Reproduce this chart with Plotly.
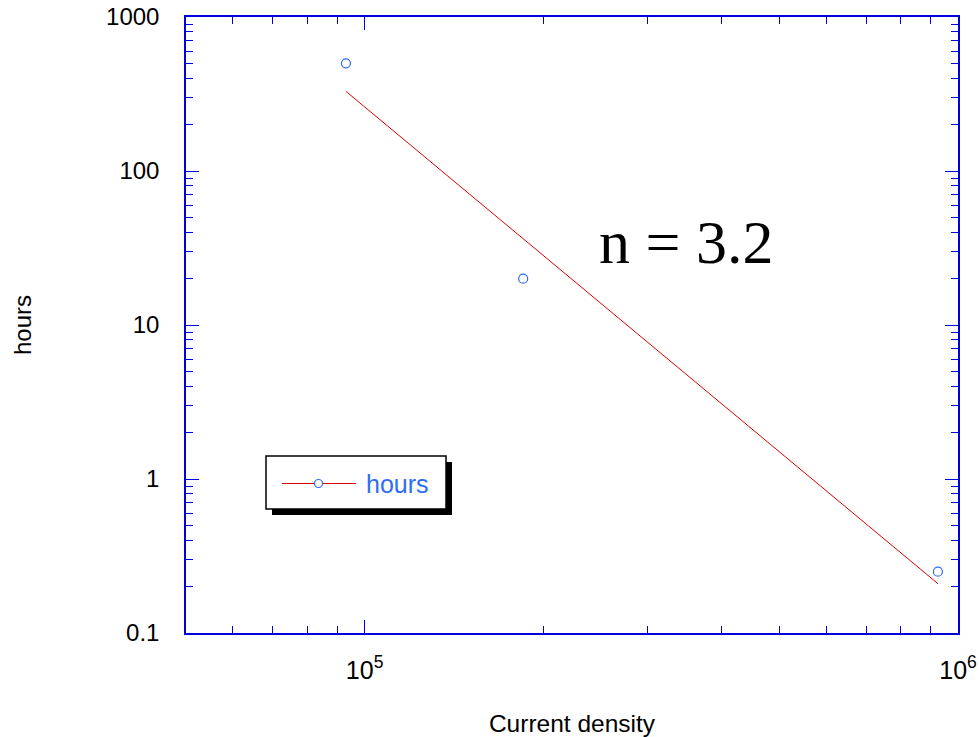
import numpy as np
import plotly.graph_objects as go

# ---- data ----
current_density = [9.3e4, 1.85e5, 9.25e5]
hours = [500, 20, 0.25]
x_tick_vals = [1e5, 1e6]
x_tick_text = ["10<sup>5</sup>", "10<sup>6</sup>"]
y_tick_vals = [0.1, 1, 10, 100, 1000]
y_tick_text = ["0.1", "1", "10", "100", "1000"]
annotation_text = "n = 3.2"
legend_label = "hours"

# power-law fit in log-log space
lx = np.log10(current_density)
ly = np.log10(hours)
slope, intercept = np.polyfit(lx, ly, 1)
fit_x = [min(current_density), max(current_density)]
fit_y = [10 ** (intercept + slope * np.log10(v)) for v in fit_x]

W, H = 979, 737
L, R, T, B = 186, 21, 17, 104
PW, PH = W - L - R, H - T - B

def px(x):
    return (x - L) / PW

def py(y):
    return (H - B - y) / PH

AXIS_COLOR = "#0000dd"
BLUE = "#2f6cf5"
RED = "#dd0000"

fig = go.Figure()
fig.add_trace(go.Scatter(x=fit_x, y=fit_y, mode="lines",
                         line=dict(color=RED, width=1), showlegend=False,
                         hoverinfo="skip"))
fig.add_trace(go.Scatter(x=current_density, y=hours, mode="markers",
                         marker=dict(symbol="circle-open", size=9,
                                     color=BLUE, line=dict(width=1.2)),
                         name=legend_label, showlegend=False))

minor_x = [v * 10 ** e for e in (4, 5) for v in range(2, 10)]
minor_y = [v * 10 ** e for e in (-1, 0, 1, 2) for v in range(2, 10)]

font_sans = "Liberation Sans, Arial, sans-serif"

fig.update_xaxes(type="log", range=[np.log10(5e4), 6],
                 tickvals=x_tick_vals, ticktext=x_tick_text,
                 ticks="inside", ticklen=13, tickwidth=1.2, tickcolor=AXIS_COLOR,
                 showline=True, linecolor=AXIS_COLOR, linewidth=1.5,
                 mirror="allticks", showgrid=False, zeroline=False,
                 ticklabelstandoff=14,
                 tickfont=dict(family=font_sans, size=25, color="black"),
                 minor=dict(tickvals=minor_x, ticks="inside", ticklen=7,
                            tickwidth=1.2, tickcolor=AXIS_COLOR, showgrid=False),
                 title=dict(text="Current density", standoff=32,
                            font=dict(family=font_sans, size=24.5, color="black")))
fig.update_yaxes(type="log", range=[-1, 3],
                 tickvals=y_tick_vals, ticktext=y_tick_text,
                 ticks="inside", ticklen=13, tickwidth=1.2, tickcolor=AXIS_COLOR,
                 showline=True, linecolor=AXIS_COLOR, linewidth=1.5,
                 mirror="allticks", showgrid=False, zeroline=False,
                 ticklabelstandoff=20,
                 tickfont=dict(family=font_sans, size=24, color="black"),
                 minor=dict(tickvals=minor_y, ticks="inside", ticklen=7,
                            tickwidth=1.2, tickcolor=AXIS_COLOR, showgrid=False),
                 title=dict(text="hours", standoff=68,
                            font=dict(family=font_sans, size=24, color="black")))

shapes = [
    # legend shadow
    dict(type="rect", xref="paper", yref="paper",
         x0=px(272), x1=px(452), y0=py(462), y1=py(515),
         fillcolor="black", line=dict(width=0), layer="above"),
    # legend box
    dict(type="rect", xref="paper", yref="paper",
         x0=px(266), x1=px(446), y0=py(456), y1=py(509),
         fillcolor="white", line=dict(color="black", width=1.5), layer="above"),
    # legend line
    dict(type="line", xref="paper", yref="paper",
         x0=px(282), x1=px(356), y0=py(483.5), y1=py(483.5),
         line=dict(color=RED, width=1), layer="above"),
    # legend marker
    dict(type="circle", xref="paper", yref="paper",
         xsizemode="pixel", ysizemode="pixel",
         xanchor=px(318.5), yanchor=py(483.5),
         x0=-4, x1=4, y0=-4, y1=4,
         fillcolor="white", line=dict(color=BLUE, width=1.2), layer="above"),
]

annotations = [
    dict(text=legend_label, xref="paper", yref="paper",
         x=px(364), y=py(484), xanchor="left", yanchor="middle",
         showarrow=False, font=dict(family=font_sans, size=25, color=BLUE)),
    dict(text=annotation_text, xref="paper", yref="paper",
         x=px(686), y=py(242), xanchor="center", yanchor="middle",
         showarrow=False,
         font=dict(family="Liberation Serif, Times New Roman, serif",
                   size=62, color="black")),
]

fig.update_layout(width=W, height=H,
                  margin=dict(l=L, r=R, t=T, b=B, autoexpand=False),
                  paper_bgcolor="white", plot_bgcolor="white",
                  showlegend=False, shapes=shapes, annotations=annotations)

fig.write_html("out.html")
